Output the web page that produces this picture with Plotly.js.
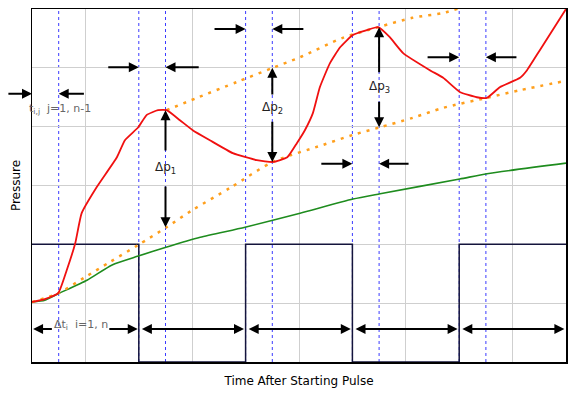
<!DOCTYPE html>
<html>
<head>
<meta charset="utf-8">
<script src="https://cdn.plot.ly/plotly-3.0.1.min.js"></script>
<style>html,body{margin:0;padding:0;background:#fff;}#chart{width:576px;height:394px;}</style>
</head>
<body>
<div id="chart"></div>
<script>
// ---- data (time in pulse units 0..10, pressure in grid units 0..6) ----
const pressureTime = [0, 0.24, 0.49, 0.65, 0.81, 0.93, 1.21, 1.59, 1.74, 1.99, 2.15, 2.36, 2.52, 2.77, 3.01, 3.33, 3.76, 4.21, 4.51, 4.78, 4.96, 5.11, 5.26, 5.39, 5.58, 5.77, 6.01, 6.27, 6.48, 6.70, 6.95, 7.45, 7.70, 8.01, 8.33, 8.52, 8.76, 9.14, 9.27, 9.51, 10];
const pressureValue = [1.02, 1.07, 1.17, 1.56, 2.02, 2.53, 2.97, 3.48, 3.77, 3.99, 4.20, 4.28, 4.28, 4.11, 3.94, 3.77, 3.55, 3.43, 3.40, 3.48, 3.72, 3.94, 4.23, 4.67, 5.08, 5.35, 5.56, 5.64, 5.69, 5.52, 5.25, 4.96, 4.83, 4.59, 4.50, 4.49, 4.67, 4.83, 4.96, 5.30, 6.0];

const baselineTime = [0, 0.24, 0.49, 1.03, 1.5, 1.99, 2.51, 3.15, 3.99, 5.02, 6.01, 6.52, 8.01, 8.52, 10];
const baselineValue = [1.02, 1.05, 1.16, 1.39, 1.65, 1.80, 1.95, 2.12, 2.29, 2.53, 2.77, 2.86, 3.11, 3.20, 3.38];

const lowerExtrapTime = [0, 0.49, 0.99, 1.46, 1.99, 2.52, 3.0, 3.71, 4.51, 5.45, 6.01, 6.52, 7.13, 7.70, 8.52, 9.14, 10];
const lowerExtrapValue = [1.02, 1.17, 1.44, 1.70, 1.99, 2.29, 2.58, 2.96, 3.40, 3.69, 3.86, 3.99, 4.15, 4.32, 4.49, 4.62, 4.78];

const upperExtrapTime = [2.52, 3.09, 3.84, 4.51, 5.02, 5.82, 6.48, 7.12, 7.68, 8.1];
const upperExtrapValue = [4.28, 4.49, 4.76, 5.0, 5.18, 5.51, 5.69, 5.85, 5.93, 6.04];

const pulseTime = [0, 2, 4, 6, 8, 10];
const pulseLevel = [2, 0, 2, 0, 2, 2];

const markerTimes = [0.5, 2, 2.5, 4, 4.5, 6, 6.5, 8, 8.5];

const xGridTicks = [1, 3, 5, 7, 9];
const yGridTicks = [1, 2, 3, 4, 5];

// pressure drops
const dropTime = [2.5, 4.5, 6.5];
const dropTop = [4.28, 5.0, 5.69];
const dropBottom = [2.29, 3.40, 3.99];
const dropLabels = ['Δp<sub>1</sub>', 'Δp<sub>2</sub>', 'Δp<sub>3</sub>'];

// relaxation windows (t_ij)
const gapStart = [0, 2, 4, 6, 8];
const gapEnd = [0.5, 2.5, 4.5, 6.5, 8.5];

// pulse intervals (Δt_i)
const intervalStart = [0, 2, 4, 6, 8];
const intervalEnd = [2, 4, 6, 8, 10];

// ---- layout helpers ----
const FONT = 'DejaVu Sans, Verdana, sans-serif';
const annotations = [];
const shapes = [];

markerTimes.forEach(t => shapes.push({
  type: 'line', xref: 'x', yref: 'paper', x0: t, x1: t, y0: 0, y1: 1,
  line: {color: '#3b3bff', width: 1, dash: '3px,3px'}, layer: 'below'
}));

function arrow(hx, hy, tx, ty, both) {
  const a = {x: hx, y: hy, ax: tx, ay: ty, xref: 'x', yref: 'y', axref: 'x', ayref: 'y',
    text: '', showarrow: true, arrowhead: 2, arrowsize: 1, arrowwidth: 2,
    arrowcolor: '#000', standoff: 0, startstandoff: 0};
  if (both) { a.arrowside = 'end+start'; a.startarrowhead = 2; a.startarrowsize = 1; }
  annotations.push(a);
}

// Δp arrows + labels
const dpLabelY = [3.30, 4.32, 4.67];
const dpUpperTail = [3.57, 4.52, 4.90];
const dpLowerTail = [3.01, 4.11, 4.45];
dropTime.forEach((t, i) => {
  arrow(t, dropTop[i], t, dpUpperTail[i]);
  arrow(t, dropBottom[i], t, dpLowerTail[i]);
  annotations.push({x: t, y: dpLabelY[i], xref: 'x', yref: 'y', text: dropLabels[i], showarrow: false,
    font: {family: FONT, size: 12, color: '#222'}});
});

// horizontal inward arrow pairs around relaxation windows
const pairY = [4.56, 5.01, 5.66, 3.37, 5.18];
const pairLeftLen = [0.47, 0.6, 0.61, 0.61, 0.62];
const pairRightLen = [0.5, 0.65, 0.61, 0.58, 0.6];
gapStart.forEach((t, i) => {
  arrow(t, pairY[i], t - pairLeftLen[i], pairY[i]);
  arrow(gapEnd[i], pairY[i], gapEnd[i] + pairRightLen[i], pairY[i]);
});
annotations.push({x: 0, y: 4.30, xshift: -5, xref: 'x', yref: 'y', xanchor: 'left', showarrow: false,
  text: 't<sub>i,j</sub>  j=1, n-1', font: {family: FONT, size: 11, color: '#666'}});

// Δt arrows along the bottom
const dtY = 0.56;
intervalStart.forEach((t0, i) => {
  const t1 = intervalEnd[i];
  if (i === 0) {
    arrow(t0 + 0.02, dtY, 0.40, dtY);
    arrow(t1 - 0.02, dtY, 1.42, dtY);
  } else {
    arrow(t1 - 0.03, dtY, t0 + 0.03, dtY, true);
  }
});
annotations.push({x: 0.91, y: 0.63, xref: 'x', yref: 'y', showarrow: false,
  text: 'Δt<sub>i</sub>  i=1, n', font: {family: FONT, size: 11, color: '#666'}});

const traces = [
  {x: pulseTime, y: pulseLevel, mode: 'lines', line: {shape: 'hv', color: '#14143c', width: 1.5}, hoverinfo: 'skip'},
  {x: baselineTime, y: baselineValue, mode: 'lines', line: {shape: 'spline', smoothing: 0.6, color: '#1e8c1e', width: 1.6}, hoverinfo: 'skip'},
  {x: lowerExtrapTime, y: lowerExtrapValue, mode: 'lines', line: {shape: 'spline', smoothing: 0.8, color: '#ff9f1c', width: 2.5, dash: '3px,6px'}, hoverinfo: 'skip'},
  {x: upperExtrapTime, y: upperExtrapValue, mode: 'lines', line: {shape: 'spline', smoothing: 0.8, color: '#ff9f1c', width: 2.5, dash: '3px,6px'}, hoverinfo: 'skip'},
  {x: pressureTime, y: pressureValue, mode: 'lines', line: {shape: 'spline', smoothing: 0.45, color: '#f01010', width: 1.8}, hoverinfo: 'skip'}
];

const axisCommon = {showticklabels: false, ticks: '', zeroline: false, showline: true, mirror: true,
  linecolor: '#000', linewidth: 1.5, gridcolor: '#cfcfcf', gridwidth: 1, fixedrange: true, tickmode: 'array'};

const layout = {
  width: 576, height: 394,
  margin: {l: 32, r: 10, t: 9, b: 32},
  paper_bgcolor: '#fff', plot_bgcolor: '#fff',
  showlegend: false,
  font: {family: FONT, size: 12, color: '#000'},
  xaxis: Object.assign({}, axisCommon, {range: [0, 10], tickvals: xGridTicks,
    title: {text: 'Time After Starting Pulse', font: {family: FONT, size: 12}, standoff: 14}}),
  yaxis: Object.assign({}, axisCommon, {range: [0, 6], tickvals: yGridTicks,
    title: {text: 'Pressure', font: {family: FONT, size: 12}, standoff: 7}}),
  shapes: shapes,
  annotations: annotations
};

Plotly.newPlot('chart', traces, layout, {displayModeBar: false, staticPlot: true});
</script>
</body>
</html>
